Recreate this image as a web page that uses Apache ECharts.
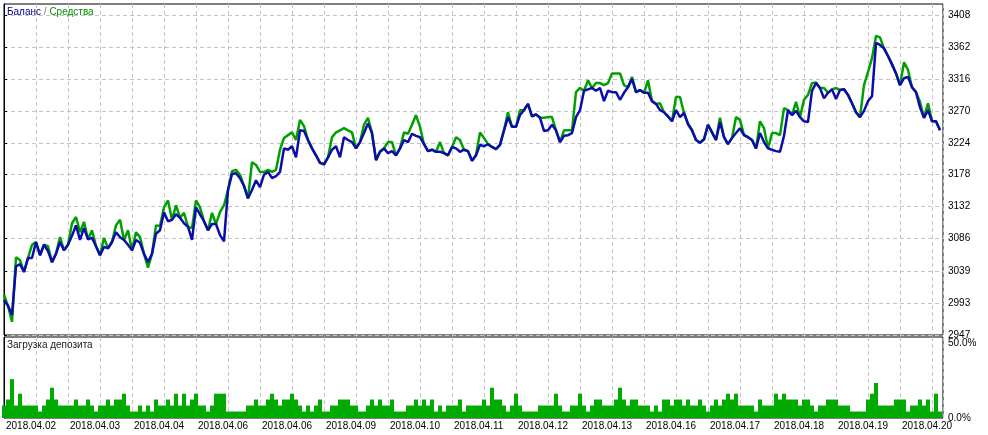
<!DOCTYPE html>
<html>
<head>
<meta charset="utf-8">
<title>Баланс / Средства</title>
<script src="https://cdn.jsdelivr.net/npm/echarts@6/dist/echarts.min.js"></script>
<style>
  html, body { margin: 0; padding: 0; background: #fff; }
  #chart { width: 988px; height: 435px; }
</style>
</head>
<body>
<div id="chart"></div>
<script>
// date labels under the load panel, one every 16 points
const dateLabels = ['2018.04.02', '2018.04.03', '2018.04.04', '2018.04.06', '2018.04.06',
  '2018.04.09', '2018.04.10', '2018.04.11', '2018.04.12', '2018.04.13',
  '2018.04.16', '2018.04.17', '2018.04.18', '2018.04.19', '2018.04.20']
const balanceTicks = [2947, 2993, 3039, 3086, 3132, 3178, 3224, 3270, 3316, 3362, 3408]
const loadTicks = [0, 50]

const balance = [
  2997, 2989, 2976, 3046, 3049, 3038, 3058, 3058, 3081, 3062,
  3077, 3068, 3052, 3064, 3081, 3069, 3077, 3090, 3105, 3084,
  3101, 3085, 3087, 3075, 3062, 3074, 3072, 3081, 3095, 3088,
  3084, 3077, 3069, 3084, 3080, 3064, 3052, 3064, 3093, 3098,
  3124, 3111, 3113, 3121, 3116, 3108, 3103, 3084, 3131, 3121,
  3111, 3098, 3107, 3107, 3091, 3082, 3156, 3179, 3180, 3173,
  3162, 3144, 3156, 3170, 3160, 3178, 3182, 3173, 3176, 3182,
  3216, 3214, 3219, 3203, 3242, 3241, 3228, 3216, 3206, 3195,
  3193, 3203, 3214, 3219, 3203, 3232, 3228, 3225, 3216, 3225,
  3238, 3252, 3238, 3199, 3211, 3216, 3209, 3212, 3206, 3216,
  3228, 3225, 3237, 3234, 3232, 3222, 3212, 3214, 3211, 3211,
  3209, 3206, 3218, 3216, 3211, 3214, 3212, 3198, 3206, 3221,
  3219, 3222, 3218, 3215, 3221, 3242, 3261, 3247, 3247, 3264,
  3271, 3280, 3262, 3265, 3260, 3241, 3242, 3250, 3242, 3225,
  3234, 3235, 3238, 3261, 3271, 3299, 3301, 3303, 3299, 3303,
  3284, 3299, 3297, 3297, 3286, 3296, 3304, 3316, 3297, 3300,
  3296, 3296, 3284, 3280, 3271, 3268, 3262, 3255, 3271, 3261,
  3267, 3251, 3242, 3228, 3224, 3229, 3250, 3239, 3228, 3254,
  3232, 3222, 3231, 3238, 3245, 3235, 3232, 3228, 3216, 3238,
  3225, 3216, 3214, 3212, 3211, 3234, 3271, 3264, 3270, 3261,
  3255, 3254, 3299, 3310, 3303, 3288, 3296, 3301, 3287, 3300,
  3301, 3293, 3281, 3268, 3261, 3270, 3284, 3291, 3368, 3365,
  3360, 3349, 3337, 3324, 3307, 3317, 3319, 3304, 3297, 3275,
  3260, 3271, 3255, 3255, 3242
]

const equity = [
  3005, 2989, 2966, 3059, 3055, 3038, 3058, 3077, 3081, 3062,
  3077, 3075, 3052, 3064, 3088, 3069, 3077, 3108, 3117, 3095,
  3110, 3085, 3098, 3075, 3062, 3087, 3072, 3081, 3105, 3113,
  3084, 3098, 3069, 3095, 3088, 3064, 3044, 3064, 3105, 3104,
  3131, 3141, 3113, 3134, 3116, 3123, 3103, 3101, 3141, 3131,
  3111, 3098, 3123, 3107, 3124, 3134, 3156, 3183, 3185, 3178,
  3162, 3144, 3196, 3192, 3182, 3182, 3185, 3182, 3185, 3214,
  3231, 3235, 3239, 3228, 3257, 3248, 3228, 3216, 3206, 3195,
  3193, 3203, 3232, 3239, 3242, 3245, 3242, 3239, 3216, 3225,
  3250, 3260, 3238, 3199, 3211, 3216, 3225, 3225, 3206, 3216,
  3239, 3237, 3250, 3264, 3247, 3222, 3212, 3214, 3211, 3225,
  3209, 3206, 3218, 3232, 3228, 3214, 3212, 3198, 3206, 3239,
  3231, 3222, 3218, 3215, 3221, 3242, 3268, 3247, 3247, 3271,
  3271, 3280, 3262, 3265, 3260, 3260, 3261, 3261, 3242, 3225,
  3242, 3242, 3242, 3297, 3303, 3299, 3314, 3303, 3310, 3310,
  3307, 3310, 3324, 3324, 3324, 3307, 3304, 3319, 3297, 3300,
  3296, 3314, 3284, 3280, 3281, 3268, 3262, 3255, 3290, 3290,
  3267, 3251, 3242, 3228, 3224, 3229, 3250, 3239, 3228, 3260,
  3232, 3222, 3231, 3261, 3257, 3235, 3232, 3228, 3216, 3255,
  3245, 3216, 3238, 3238, 3235, 3274, 3271, 3264, 3283, 3261,
  3286, 3293, 3310, 3311, 3303, 3303, 3296, 3301, 3303, 3300,
  3301, 3293, 3281, 3268, 3261, 3307, 3326, 3346, 3378, 3376,
  3360, 3349, 3337, 3324, 3307, 3340, 3329, 3304, 3297, 3283,
  3260, 3281, 3255, 3255, 3242
]

// deposit load, %
const load = [
  7.7, 11.4, 24, 7.7, 15, 7.7, 7.7, 7.7, 7.7, 4,
  7.7, 11.4, 18.7, 11.4, 7.7, 7.7, 7.7, 7.7, 11.4, 7.7,
  7.7, 11.4, 7.7, 4, 7.7, 7.7, 11.4, 7.7, 11.4, 11.4,
  15, 7.7, 4, 4, 7.7, 4, 7.7, 4, 11.4, 7.7,
  7.7, 11.4, 7.7, 15, 7.7, 15, 7.7, 11.4, 15, 7.7,
  7.7, 4, 7.7, 15, 15, 15, 4, 4, 4, 4,
  4, 7.7, 7.7, 11.4, 7.7, 7.7, 11.4, 15, 11.4, 7.7,
  11.4, 11.4, 15, 11.4, 7.7, 4, 7.7, 4, 7.7, 11.4,
  4, 4, 7.7, 7.7, 11.4, 11.4, 11.4, 7.7, 7.7, 4,
  4, 7.7, 11.4, 7.7, 11.4, 7.7, 7.7, 11.4, 4, 4,
  4, 7.7, 7.7, 11.4, 7.7, 11.4, 7.7, 11.4, 4, 7.7,
  4, 7.7, 7.7, 7.7, 11.4, 4, 7.7, 7.7, 7.7, 7.7,
  11.4, 7.7, 18.7, 11.4, 11.4, 7.7, 4, 7.7, 15, 7.7,
  4, 4, 4, 4, 7.7, 7.7, 7.7, 7.7, 15, 7.7,
  4, 4, 7.7, 7.7, 15, 7.7, 4, 7.7, 11.4, 11.4,
  7.7, 7.7, 7.7, 11.4, 18.7, 11.4, 7.7, 11.4, 11.4, 7.7,
  7.7, 7.7, 4, 7.7, 4, 11.4, 11.4, 7.7, 11.4, 11.4,
  7.7, 11.4, 7.7, 7.7, 11.4, 7.7, 4, 7.7, 11.4, 7.7,
  11.4, 15, 11.4, 15, 7.7, 7.7, 7.7, 7.7, 4, 11.4,
  7.7, 7.7, 7.7, 15, 11.4, 15, 11.4, 11.4, 11.4, 7.7,
  11.4, 11.4, 7.7, 4, 7.7, 7.7, 11.4, 11.4, 11.4, 7.7,
  7.7, 7.7, 4, 4, 4, 4, 11.4, 15, 21.6, 7.7,
  7.7, 7.7, 7.7, 11.4, 11.4, 11.4, 4, 7.7, 7.7, 11.4,
  7.7, 11.4, 4, 15, 4
]

const font = 'Liberation Sans, Arial, sans-serif'
const gridLine = { show: true, lineStyle: { color: '#c4c4c4', width: 1, type: [4, 3] } }
const xMax = balance.length - 1 + 0.75

const chart = echarts.init(document.getElementById('chart'), null, { renderer: 'canvas' })

const option = {
  animation: false,
  backgroundColor: '#fff',
  textStyle: { fontFamily: font },
  title: [
    {
      left: 7, top: 7, padding: 0,
      text: '{b|Баланс} {s|/} {g|Средства}',
      textStyle: {
        fontSize: 10,
        fontWeight: 'normal',
        rich: {
          b: { color: '#000090', fontSize: 10, fontFamily: font },
          s: { color: '#808080', fontSize: 10, fontFamily: font },
          g: { color: '#009000', fontSize: 10, fontFamily: font }
        }
      }
    },
    {
      left: 7, top: 340, padding: 0,
      text: 'Загрузка депозита',
      textStyle: { fontSize: 10, fontWeight: 'normal', color: '#202020', fontFamily: font }
    }
  ],
  grid: [
    { left: 4, top: 4, width: 939, height: 331, show: true, borderColor: '#000', borderWidth: 1, backgroundColor: '#fff' },
    { left: 4, top: 337, width: 939, height: 81, show: true, borderColor: '#000', borderWidth: 1, backgroundColor: '#fff' }
  ],
  xAxis: [
    {
      type: 'value', gridIndex: 0, min: 0, max: xMax, interval: 8,
      axisLine: { show: false }, axisTick: { show: false }, axisLabel: { show: false },
      splitLine: gridLine
    },
    {
      type: 'value', gridIndex: 1, min: 0, max: xMax, interval: 8,
      axisLine: { show: false }, axisTick: { show: false },
      axisLabel: {
        show: true, align: 'left', margin: 3, padding: [0, 0, 0, 2],
        color: '#000', fontSize: 10, fontFamily: font,
        formatter: function (v) {
          return v % 16 === 0 ? (dateLabels[v / 16] || '') : ''
        }
      },
      splitLine: gridLine
    }
  ],
  yAxis: [
    {
      type: 'value', gridIndex: 0, position: 'right', min: 2947, max: 3424,
      axisLine: { show: true, lineStyle: { color: '#000' } },
      axisTick: { show: true, length: 3, customValues: balanceTicks, lineStyle: { color: '#000' } },
      axisLabel: {
        customValues: balanceTicks, color: '#000', fontSize: 10, fontFamily: font, margin: 5,
        formatter: v => String(Math.round(v))
      },
      splitLine: gridLine
    },
    {
      type: 'value', gridIndex: 1, position: 'right', min: 0, max: 50,
      axisLine: { show: true, lineStyle: { color: '#000' } },
      axisTick: { show: false },
      axisLabel: {
        customValues: loadTicks, color: '#000', fontSize: 10, fontFamily: font, margin: 5,
        formatter: v => v === 50 ? '{t|' + v.toFixed(1) + '%}' : v.toFixed(1) + '%',
        rich: { t: { padding: [12, 0, 0, 0], fontSize: 10, fontFamily: font, color: '#000' } }
      },
      splitLine: { show: false }
    }
  ],
  series: [
    {
      name: 'Средства', type: 'line', xAxisIndex: 0, yAxisIndex: 0,
      data: equity.map((v, i) => [i, v]),
      showSymbol: false, symbol: 'none',
      lineStyle: { color: '#00a000', width: 2.5 },
      z: 2
    },
    {
      name: 'Баланс', type: 'line', xAxisIndex: 0, yAxisIndex: 0,
      data: balance.map((v, i) => [i, v]),
      showSymbol: false, symbol: 'none',
      lineStyle: { color: '#0c0cac', width: 2.5 },
      z: 3
    },
    {
      name: 'Загрузка депозита', type: 'bar', xAxisIndex: 1, yAxisIndex: 1,
      data: load.map((v, i) => [i, v]),
      barWidth: 4,
      itemStyle: { color: '#00aa00' }
    }
  ]
}

chart.setOption(option)
</script>
</body>
</html>
